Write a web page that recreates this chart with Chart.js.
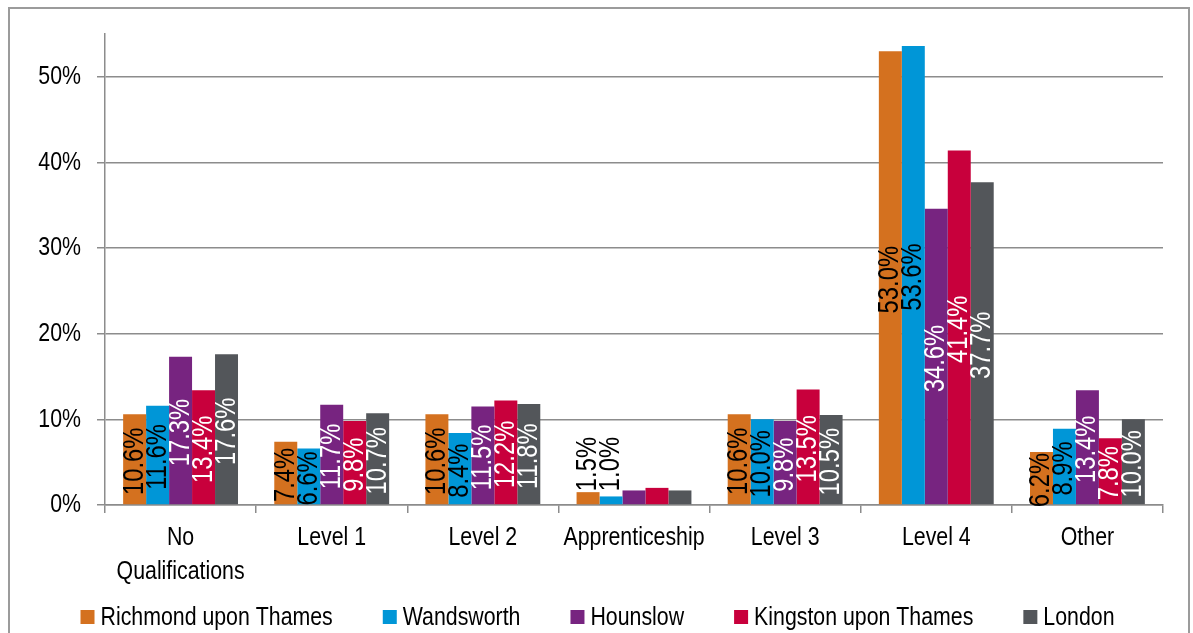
<!DOCTYPE html>
<html><head><meta charset="utf-8">
<script src="https://cdn.jsdelivr.net/npm/chart.js@4/dist/chart.umd.min.js"></script>
<style>
html,body{margin:0;padding:0;background:#fff;overflow:hidden;}
#frame{position:absolute;left:8px;top:7px;width:1178px;height:700px;border:2px solid #9b9b9b;}
#wrap{position:absolute;left:0;top:0;width:1193px;height:633px;}
</style></head><body>
<div id="frame"></div>
<div id="wrap"><canvas id="c"></canvas></div>
<script>
const categories = [["No","Qualifications"],"Level 1","Level 2","Apprenticeship","Level 3","Level 4","Other"];
const seriesNames = ["Richmond upon Thames","Wandsworth","Hounslow","Kingston upon Thames","London"];
const richmond   = [10.6, 7.4, 10.6, 1.5, 10.6, 53.0, 6.2];
const wandsworth = [11.6, 6.6,  8.4, 1.0, 10.0, 53.6, 8.9];
const hounslow   = [17.3, 11.7, 11.5, 1.7, 9.8, 34.6, 13.4];
const kingston   = [13.4, 9.8, 12.2, 2.0, 13.5, 41.4, 7.8];
const london     = [17.6, 10.7, 11.8, 1.7, 10.5, 37.7, 10.0];
const yTickStep = 10;
const yMax = 55;
const seriesColors = ["#D4711F","#0096D7","#772480","#C8003C","#53565A"];
const labelColors  = ["#000000","#000000","#ffffff","#ffffff","#ffffff"];
// labels not shown in the reference (dataset index -> category indices)
const hiddenLabels = [[],[],[3],[3],[3]];

const FONT = '"Liberation Sans",Arial,sans-serif';
const SX = 0.82; // horizontal condensation to mimic a narrow typeface
Chart.defaults.font.family = FONT;
Chart.defaults.color = '#000';

const allSeries = [richmond, wandsworth, hounslow, kingston, london];

const canvas = document.getElementById('c');
const ctx0 = canvas.getContext('2d');
const origFill = ctx0.fillText.bind(ctx0);
const origMeasure = ctx0.measureText.bind(ctx0);
ctx0.fillText = function (t, x, y) {
  this.save();
  this.translate(x, y);
  this.scale(SX, 1);
  origFill(t, 0, 0);
  this.restore();
};
ctx0.measureText = function (t) {
  const m = origMeasure(t);
  return {
    width: m.width * SX,
    actualBoundingBoxAscent: m.actualBoundingBoxAscent,
    actualBoundingBoxDescent: m.actualBoundingBoxDescent,
    actualBoundingBoxLeft: m.actualBoundingBoxLeft * SX,
    actualBoundingBoxRight: m.actualBoundingBoxRight * SX,
    fontBoundingBoxAscent: m.fontBoundingBoxAscent,
    fontBoundingBoxDescent: m.fontBoundingBoxDescent
  };
};

const barLabels = {
  id: 'barLabels',
  afterDatasetsDraw(chart) {
    const ctx = chart.ctx;
    ctx.save();
    ctx.font = '29px ' + FONT;
    chart.data.datasets.forEach((ds, di) => {
      const meta = chart.getDatasetMeta(di);
      meta.data.forEach((bar, i) => {
        if (hiddenLabels[di].includes(i)) return;
        const txt = ds.data[i].toFixed(1) + '%';
        const w = ctx.measureText(txt).width;
        const h = bar.base - bar.y;
        ctx.save();
        ctx.fillStyle = labelColors[di];
        ctx.textBaseline = 'middle';
        if (h < w / 2) {
          const first = chart.getDatasetMeta(0).data[i];
          ctx.translate(bar.x, Math.min(bar.y, first.y) - 1);
          ctx.rotate(-Math.PI / 2);
          ctx.textAlign = 'left';
          ctx.fillText(txt, 0, 0);
        } else {
          ctx.translate(bar.x, (bar.y + bar.base) / 2 + 2);
          ctx.rotate(-Math.PI / 2);
          ctx.textAlign = 'center';
          ctx.fillText(txt, 0, 0);
        }
        ctx.restore();
      });
    });
    ctx.restore();
  }
};

const customLegend = {
  id: 'customLegend',
  afterDraw(chart) {
    const ctx = chart.ctx;
    ctx.save();
    ctx.font = '26px ' + FONT;
    const box = 14, gap = 6, spacing = 50;
    const widths = seriesNames.map(n => box + gap + ctx.measureText(n).width);
    const total = widths.reduce((a, b) => a + b, 0) + spacing * (widths.length - 1);
    let x = chart.width / 2 + 1 - total / 2;
    const yMid = chart.height - 16;
    ctx.textBaseline = 'middle';
    ctx.textAlign = 'left';
    seriesNames.forEach((n, k) => {
      ctx.fillStyle = seriesColors[k];
      ctx.fillRect(x, yMid - box / 2, box, box);
      ctx.fillStyle = '#000';
      ctx.fillText(n, x + box + gap, yMid + 1);
      x += widths[k] + spacing;
    });
    ctx.restore();
  }
};

new Chart(ctx0, {
  type: 'bar',
  data: {
    labels: categories,
    datasets: seriesNames.map((n, k) => ({
      label: n,
      data: allSeries[k],
      backgroundColor: seriesColors[k],
      borderWidth: 0,
      barPercentage: 1.0,
      categoryPercentage: 0.76
    }))
  },
  options: {
    responsive: true,
    maintainAspectRatio: false,
    animation: false,
    layout: { padding: { left: 0, right: 30, top: 34, bottom: 0 } },
    plugins: { legend: { display: false }, tooltip: { enabled: false } },
    scales: {
      x: {
        grid: { offset: true, drawOnChartArea: false, tickLength: 8, color: '#8c8c8c', lineWidth: 1.5 },
        border: { color: '#8c8c8c', width: 1.5 },
        ticks: { font: { size: 26, lineHeight: 1.3 }, padding: 8, maxRotation: 0, autoSkip: false },
        afterFit(scale) { scale.height = 128; }
      },
      y: {
        min: 0, max: yMax,
        grid: { color: '#8c8c8c', lineWidth: 1.5, tickLength: 8 },
        border: { color: '#8c8c8c', width: 1.5 },
        ticks: { stepSize: yTickStep, includeBounds: false, padding: 16, font: { size: 26 },
                 callback: v => v + '%' },
        afterFit(scale) { scale.width = 105; }
      }
    }
  },
  plugins: [barLabels, customLegend]
});
</script>
</body></html>
